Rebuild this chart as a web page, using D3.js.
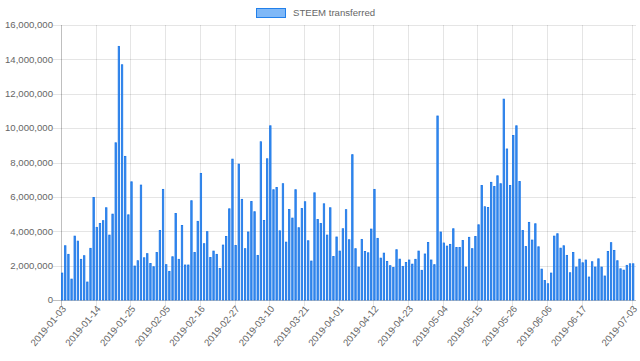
<!DOCTYPE html>
<html>
<head>
<meta charset="utf-8">
<script src="https://cdnjs.cloudflare.com/ajax/libs/d3/7.8.5/d3.min.js"></script>
<style>
  body { margin: 0; background: #fff; }
  svg { display: block; font-family: "Liberation Sans", Arial, Helvetica, sans-serif; }
</style>
</head>
<body>
<svg id="chart"></svg>
<script>
// daily STEEM transferred, 2019-01-03 .. 2019-07-03 (millions)
const startDate = "2019-01-03";
const dayCount = 182;

const valuesJan = [1.59, 3.18, 2.68, 1.24, 3.74, 3.45, 2.39, 2.6, 1.07, 3.03, 5.99, 4.25, 4.48, 4.64,
  5.39, 3.8, 5.02, 9.17, 14.78, 13.71, 8.38, 4.98, 6.9, 2.0, 2.31, 6.71, 2.48, 2.72, 2.15, 1.96,
  2.79, 4.07, 6.46, 2.08, 1.69, 2.54, 5.06, 2.39, 4.36, 2.06, 2.06, 5.8, 2.79, 4.6, 7.39, 3.3];
const valuesFeb = [4.0, 2.5, 2.87, 2.68, 1.86, 3.22, 3.72, 5.33, 8.22, 3.2, 7.93, 5.88, 3.01, 3.98,
  5.76, 5.16, 2.62, 9.23, 4.65, 8.24, 10.16, 6.44, 6.57, 4.05, 6.79, 3.39, 5.29, 4.79, 6.44, 4.23,
  5.35, 5.74, 3.47, 2.29, 6.26, 4.71, 4.48, 5.62, 3.8, 5.39, 2.56, 3.69, 2.87, 4.17];
const valuesApr = [5.28, 3.53, 8.48, 3.01, 1.94, 3.55, 2.85, 2.77, 4.15, 6.46, 3.61, 2.46, 2.75, 2.27,
  2.02, 1.92, 2.95, 2.4, 1.98, 2.21, 2.35, 2.11, 2.39, 2.87, 1.75, 2.7, 3.37, 2.35, 2.08, 10.73,
  3.98, 3.34, 3.16, 3.26, 4.17, 3.08, 3.08, 3.49, 1.94, 3.67, 3.01, 3.72, 4.4, 6.69, 5.45];
const valuesMay = [5.41, 6.87, 6.63, 7.25, 6.79, 11.71, 8.81, 6.69, 9.6, 10.16, 6.92, 4.07, 3.14, 4.54,
  3.51, 4.46, 3.12, 1.82, 1.16, 0.97, 1.59, 3.74, 3.88, 3.04, 3.18, 2.62, 1.61, 2.79, 1.94, 2.4,
  2.19, 2.35, 1.36, 2.25, 1.94, 2.42, 1.94, 1.42, 2.85, 3.36, 2.91, 2.31, 1.84, 1.76, 2.04, 2.13, 2.13];

const xTickLabels = ["2019-01-03", "2019-01-14", "2019-01-25", "2019-02-05", "2019-02-16",
  "2019-02-27", "2019-03-10", "2019-03-21", "2019-04-01", "2019-04-12", "2019-04-23",
  "2019-05-04", "2019-05-15", "2019-05-26", "2019-06-06", "2019-06-17", "2019-07-03"];
const yTicks = [0, 2e6, 4e6, 6e6, 8e6, 10e6, 12e6, 14e6, 16e6];
const seriesName = "STEEM transferred";

const width = 640, height = 361;
const plot = { left: 61, top: 25, bottom: 300, right: 636 };

const parse = d3.utcParse("%Y-%m-%d");
const fmtDay = d3.utcFormat("%Y-%m-%d");
const dates = d3.range(dayCount).map(i => fmtDay(d3.utcDay.offset(parse(startDate), i)));
const values = [...valuesJan, ...valuesFeb, ...valuesApr, ...valuesMay].map(v => v * 1e6);
const data = dates.map((d, i) => ({ date: d, value: values[i] }));

const svg = d3.select("#chart").attr("width", width).attr("height", height);

// + SCALES
const xScale = d3.scaleBand()
  .domain(dates)
  .range([plot.left, plot.left + 3.155 * (dayCount - 0.3)])
  .paddingInner(0.3)
  .paddingOuter(0)
  .align(0);

const yScale = d3.scaleLinear()
  .domain([0, 16e6])
  .range([plot.bottom, plot.top]);

const grid = "rgba(0,0,0,0.1)";
const textCol = "#666";
const fontSize = "9.6px";

// horizontal grid + y labels
svg.append("g").selectAll("line")
  .data(yTicks)
  .join("line")
  .attr("x1", plot.left - 8).attr("x2", plot.right)
  .attr("y1", d => Math.round(yScale(d)) + 0.5)
  .attr("y2", d => Math.round(yScale(d)) + 0.5)
  .attr("stroke", d => d === 0 ? "rgba(0,0,0,0.25)" : grid);

const yFmt = d3.format(",");
svg.append("g").selectAll("text")
  .data(yTicks)
  .join("text")
  .attr("x", plot.left - 8)
  .attr("y", d => yScale(d))
  .attr("dy", "0.35em")
  .attr("text-anchor", "end")
  .attr("fill", textCol)
  .style("font-size", fontSize)
  .text(d => yFmt(d));

// vertical grid at labelled days
svg.append("g").selectAll("line")
  .data(xTickLabels)
  .join("line")
  .attr("x1", d => Math.round(xScale(d)) + 0.5)
  .attr("x2", d => Math.round(xScale(d)) + 0.5)
  .attr("y1", plot.top)
  .attr("y2", plot.bottom + 6)
  .attr("stroke", (d, i) => i === 0 ? "rgba(0,0,0,0.25)" : grid);

svg.append("g").selectAll("text")
  .data(xTickLabels)
  .join("text")
  .attr("transform", d => `translate(${xScale(d) + 3}, ${plot.bottom + 7}) rotate(-50)`)
  .attr("dy", "0.35em")
  .attr("text-anchor", "end")
  .attr("fill", textCol)
  .style("font-size", fontSize)
  .text(d => d);

// + BARS
svg.append("g").selectAll("rect")
  .data(data)
  .join("rect")
  .attr("x", d => xScale(d.date) + 0.4)
  .attr("width", xScale.bandwidth() - 0.8)
  .attr("y", d => yScale(d.value) + 0.4)
  .attr("height", d => yScale(0) - yScale(d.value) - 0.4)
  .attr("fill", "#3d8ff0")
  .attr("stroke", "#1874e6")
  .attr("stroke-width", 0.8);

// + LEGEND
const legend = svg.append("g");
legend.append("rect")
  .attr("x", 256.5).attr("y", 8.5)
  .attr("width", 29).attr("height", 9)
  .attr("fill", "#7fb8f7")
  .attr("stroke", "#2280ea");
legend.append("text")
  .attr("x", 293).attr("y", 13)
  .attr("dy", "0.35em")
  .attr("fill", textCol)
  .style("font-size", fontSize)
  .text(seriesName);
</script>
</body>
</html>
